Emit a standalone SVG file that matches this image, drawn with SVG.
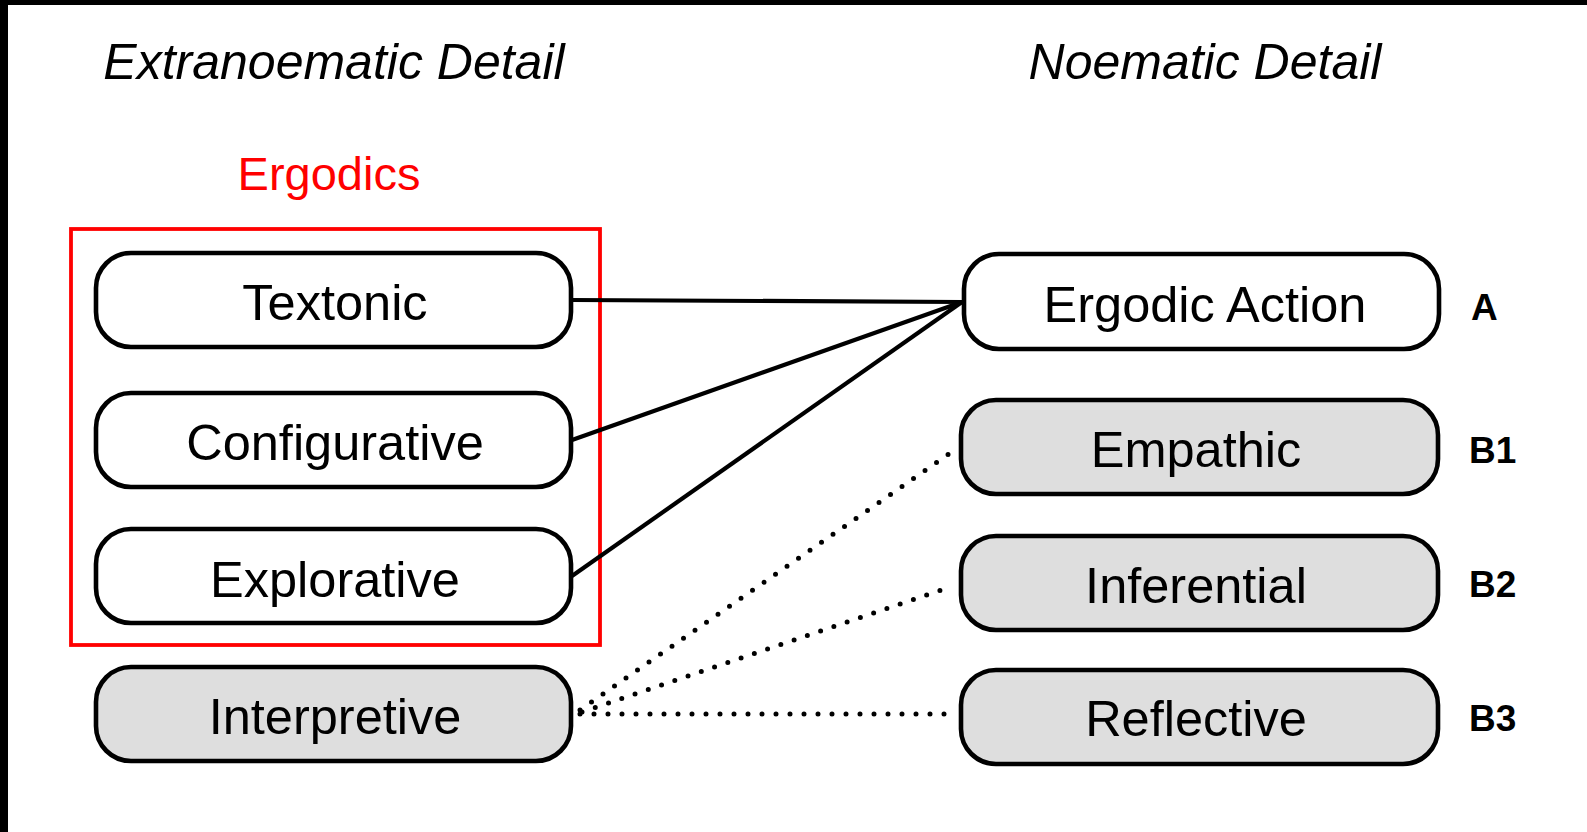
<svg xmlns="http://www.w3.org/2000/svg" width="1587" height="832" viewBox="0 0 1587 832">
<style>
.bg{fill:#fff}
.edge{fill:#000}
.node{stroke:#000;stroke-width:4.6;fill:#fff}
.gray{fill:#dedede}
.t{font-family:"Liberation Sans",Arial,sans-serif;font-size:50.5px;fill:#000;text-anchor:middle}
.title{font-family:"Liberation Sans",Arial,sans-serif;font-size:50px;font-style:italic;fill:#000;text-anchor:middle}
.lab{font-family:"Liberation Sans",Arial,sans-serif;font-size:37px;font-weight:bold;fill:#000}
.solid{stroke:#000;stroke-width:4.2;fill:none}
.dot{stroke:#000;stroke-width:5;fill:none;stroke-linecap:round;stroke-dasharray:0 14}
</style>
<rect class="bg" x="0" y="0" width="1587" height="832"/>
<rect class="edge" x="0" y="0" width="1587" height="5"/>
<rect class="edge" x="0" y="0" width="8" height="832"/>
<text class="title" x="334" y="79">Extranoematic Detail</text>
<text class="title" x="1205" y="79">Noematic Detail</text>
<g id="ergodics">
<rect x="71" y="229" width="529" height="416" fill="none" stroke="#ff0000" stroke-width="3.8"/>
<text x="329" y="190" font-family="Liberation Sans, Arial, sans-serif" font-size="47px" fill="#ff0000" text-anchor="middle">Ergodics</text>
</g>
<g id="connectors">
<line class="solid" x1="572" y1="300" x2="962" y2="302"/>
<line class="solid" x1="572" y1="440" x2="962" y2="302"/>
<line class="solid" x1="572" y1="576" x2="962" y2="302"/>
<line class="dot" x1="580" y1="710" x2="956" y2="449"/>
<line class="dot" x1="582" y1="712" x2="950" y2="587"/>
<line class="dot" x1="580" y1="714" x2="950" y2="714"/>
</g>
<g id="textonic">
<rect class="node" x="96" y="253" width="475" height="94" rx="35"/>
<text class="t" x="335" y="320">Textonic</text>
</g>
<g id="configurative">
<rect class="node" x="96" y="393" width="475" height="94" rx="35"/>
<text class="t" x="335" y="460">Configurative</text>
</g>
<g id="explorative">
<rect class="node" x="96" y="529" width="475" height="94" rx="35"/>
<text class="t" x="335" y="597">Explorative</text>
</g>
<g id="interpretive">
<rect class="node gray" x="96" y="667" width="475" height="94" rx="35"/>
<text class="t" x="335" y="734">Interpretive</text>
</g>
<g id="ergodic-action">
<rect class="node" x="964" y="254" width="475" height="95" rx="35"/>
<text class="t" x="1205" y="322">Ergodic Action</text>
<text class="lab" x="1471" y="320">A</text>
</g>
<g id="empathic">
<rect class="node gray" x="961" y="400" width="477" height="94" rx="35"/>
<text class="t" x="1196" y="467">Empathic</text>
<text class="lab" x="1469" y="463">B1</text>
</g>
<g id="inferential">
<rect class="node gray" x="961" y="536" width="477" height="94" rx="35"/>
<text class="t" x="1196" y="603">Inferential</text>
<text class="lab" x="1469" y="597">B2</text>
</g>
<g id="reflective">
<rect class="node gray" x="961" y="670" width="477" height="94" rx="35"/>
<text class="t" x="1196" y="736">Reflective</text>
<text class="lab" x="1469" y="731">B3</text>
</g>
</svg>
